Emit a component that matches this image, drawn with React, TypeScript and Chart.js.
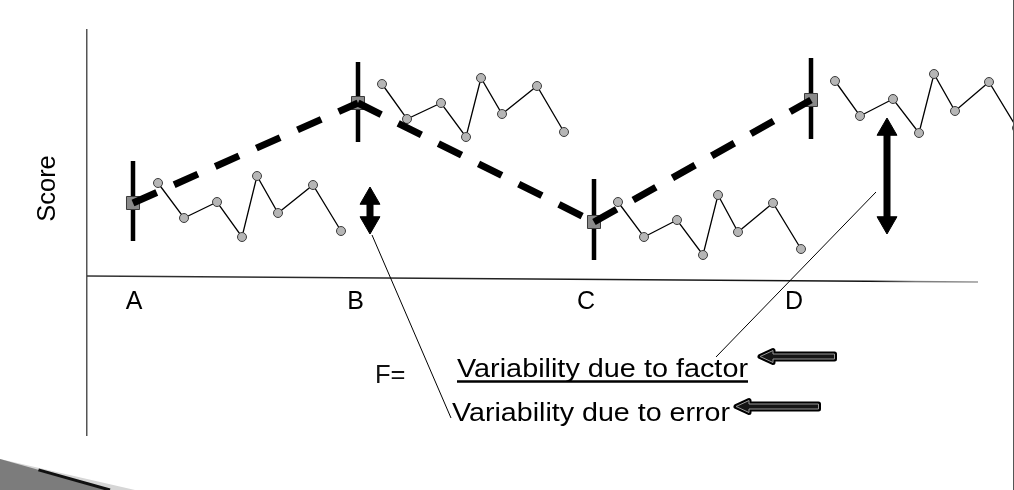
import React, { useEffect, useRef } from 'react';
import { Chart, registerables } from 'chart.js';

Chart.register(...registerables);

const FONT = '"Liberation Sans", Arial, Helvetica, sans-serif';

// ---- scale ranges (score units / trial units) ----
const X_MIN = 0;
const X_MAX = 92.6;
const Y_MIN = -15.7;
const Y_MAX = 24.8;

// ---- horizontal axis line (slightly tilted in the slide) ----
const axisLineX = [0, 89.1];
const axisLineY = [0.2, -0.4];

// ---- groups (factor levels) ----
const groupLabels = ['A', 'B', 'C', 'D'];
const groupLabelX = [4.7, 26.85, 49.9, 70.7];
const groupX = [4.6, 27.1, 50.7, 72.4];
const groupMeans = [7.5, 17.5, 5.6, 17.8];
const barHigh = [11.7, 21.6, 9.9, 22.0];
const barLow = [3.7, 13.6, 1.8, 13.9];

// ---- individual scores per group ----
const trialsAX = [7.1, 9.7, 13.0, 15.5, 17.0, 19.1, 22.6, 25.4];
const trialsAScores = [9.5, 6.0, 7.6, 4.1, 10.2, 6.5, 9.3, 4.7];
const trialsBX = [29.5, 32.0, 35.4, 37.9, 39.4, 41.5, 45.0, 47.7];
const trialsBScores = [19.4, 15.9, 17.5, 14.1, 20.0, 16.4, 19.2, 14.6];
const trialsCX = [53.1, 55.7, 59.0, 61.6, 63.1, 65.1, 68.6, 71.4];
const trialsCScores = [7.6, 4.1, 5.8, 2.3, 8.3, 4.6, 7.5, 2.9];
const trialsDX = [74.8, 77.3, 80.6, 83.2, 84.7, 86.8, 90.2, 93.0];
const trialsDScores = [19.7, 16.2, 17.9, 14.5, 20.4, 16.7, 19.6, 15.0];

// ---- double arrows (tips) ----
const errorArrowX = 28.3;
const errorArrowTips = [9.1, 4.4];
const factorArrowX = 80.0;
const factorArrowTips = [16.0, 4.4];

// ---- leader lines ----
const errorLeaderX = [28.5, 36.4];
const errorLeaderY = [4.3, -14.0];
const factorLeaderX = [78.9, 62.9];
const factorLeaderY = [8.6, -7.9];

// ---- texts ----
const yAxisTitle = 'Score';
const fractionPrefix = 'F=';
const numeratorText = 'Variability due to factor';
const denominatorText = 'Variability due to error';

// text anchors (data units) : [x, y]
const yTitlePos = [-3.95, 8.95];
const prefixPos = [28.8, -10.5];
const numeratorPos = [37.0, -9.87];
const numeratorWidth = 29.1;
const denominatorPos = [36.5, -14.25];
const denominatorWidth = 27.8;
const underlineX = [37.0, 66.1];
const underlineY = -10.35;

// block arrows: [tipX, tailX, centerY]
const blockArrow1 = [67.0, 75.0, -7.85];
const blockArrow2 = [64.6, 73.4, -12.85];

// corner decoration polygon
const cornerX = [-8.7, 2.3, -8.7];
const cornerY = [-18.1, -21.2, -21.2];

const ARROW_HEAD_R = 11.5;
const PLOT_H = 405;
const pxPerUnitY = PLOT_H / (Y_MAX - Y_MIN);

function pts(xs: number[], ys: number[]) {
  return xs.map((x, i) => ({ x, y: ys[i] }));
}

function arrowDataset(x: number, tips: number[]) {
  const off = ARROW_HEAD_R / pxPerUnitY;
  return {
    type: 'line' as const,
    data: [
      { x, y: tips[0] - off },
      { x, y: tips[1] + off },
    ],
    borderColor: '#000',
    borderWidth: 7,
    borderCapStyle: 'butt' as const,
    pointStyle: 'triangle' as const,
    pointRotation: [0, 180],
    pointRadius: ARROW_HEAD_R,
    pointBackgroundColor: '#000',
    pointBorderColor: '#000',
    pointBorderWidth: 1,
    order: 0,
    clip: false as const,
  };
}

const slidePlugin = {
  id: 'slideAnnotations',
  beforeDraw(chart: any) {
    const { ctx, scales } = chart;
    const sx = scales.x;
    const sy = scales.y;
    const p = cornerX.map((x, i) => [sx.getPixelForValue(x), sy.getPixelForValue(cornerY[i])]);
    ctx.save();
    ctx.beginPath();
    ctx.moveTo(p[0][0], p[0][1]);
    ctx.lineTo(p[1][0] + 25, p[1][1]);
    ctx.lineTo(p[2][0], p[2][1]);
    ctx.closePath();
    ctx.fillStyle = '#d6d6d6';
    ctx.fill();
    ctx.beginPath();
    ctx.moveTo(p[0][0], p[0][1]);
    ctx.lineTo(p[1][0], p[1][1]);
    ctx.lineTo(p[2][0], p[2][1]);
    ctx.closePath();
    ctx.fillStyle = '#7c7c7c';
    ctx.fill();
    ctx.beginPath();
    const t = 0.35;
    ctx.moveTo(p[0][0] + (p[1][0] - p[0][0]) * t, p[0][1] + (p[1][1] - p[0][1]) * t);
    ctx.lineTo(p[1][0], p[1][1]);
    ctx.strokeStyle = '#111';
    ctx.lineWidth = 3;
    ctx.stroke();
    ctx.restore();
  },
  afterDraw(chart: any) {
    const { ctx, scales } = chart;
    const sx = scales.x;
    const sy = scales.y;
    const X = (v: number) => sx.getPixelForValue(v);
    const Y = (v: number) => sy.getPixelForValue(v);

    ctx.save();
    ctx.fillStyle = '#000';

    ctx.save();
    ctx.font = `25.5px ${FONT}`;
    ctx.translate(X(yTitlePos[0]), Y(yTitlePos[1]));
    ctx.rotate(-Math.PI / 2);
    ctx.textAlign = 'center';
    ctx.textBaseline = 'middle';
    ctx.fillText(yAxisTitle, 0, 0);
    ctx.restore();

    const drawText = (text: string, x: number, y: number, width?: number) => {
      ctx.save();
      ctx.font = `25.5px ${FONT}`;
      ctx.textAlign = 'left';
      ctx.textBaseline = 'alphabetic';
      const px = X(x);
      const py = Y(y);
      const w = ctx.measureText(text).width;
      const s = width ? (X(x + width) - px) / w : 1;
      ctx.translate(px, py);
      ctx.scale(s, 1);
      ctx.fillText(text, 0, 0);
      ctx.restore();
    };

    ctx.fillStyle = '#111';
    drawText(fractionPrefix, prefixPos[0], prefixPos[1]);
    ctx.fillStyle = '#000';
    drawText(numeratorText, numeratorPos[0], numeratorPos[1], numeratorWidth);
    drawText(denominatorText, denominatorPos[0], denominatorPos[1], denominatorWidth);

    ctx.beginPath();
    ctx.moveTo(X(underlineX[0]), Y(underlineY));
    ctx.lineTo(X(underlineX[1]), Y(underlineY));
    ctx.lineWidth = 2.5;
    ctx.strokeStyle = '#000';
    ctx.stroke();

    const blockArrow = (a: number[]) => {
      const tip = X(a[0]) + 3;
      const tail = X(a[1]) - 2.5;
      const cy = Y(a[2]);
      const headLen = 13;
      const headHalf = 6;
      const shaftHalf = 2.5;
      ctx.beginPath();
      ctx.moveTo(tip, cy);
      ctx.lineTo(tip + headLen, cy - headHalf);
      ctx.lineTo(tip + headLen, cy - shaftHalf);
      ctx.lineTo(tail, cy - shaftHalf);
      ctx.lineTo(tail, cy + shaftHalf);
      ctx.lineTo(tip + headLen, cy + shaftHalf);
      ctx.lineTo(tip + headLen, cy + headHalf);
      ctx.closePath();
      ctx.lineJoin = 'round';
      ctx.lineWidth = 5;
      ctx.strokeStyle = '#000';
      ctx.stroke();
      ctx.fillStyle = '#151515';
      ctx.fill();
      ctx.lineWidth = 1;
      ctx.strokeStyle = '#9a9a9a';
      ctx.stroke();
    };
    blockArrow(blockArrow1);
    blockArrow(blockArrow2);

    ctx.restore();
  },
};

function buildConfig(): any {
  const meanPts = pts(groupX, groupMeans);
  const datasets: any[] = [];

  // horizontal axis line
  datasets.push({
    type: 'line',
    data: pts(axisLineX, axisLineY),
    borderColor: (c: any) => {
      const chart = c.chart;
      if (!chart.chartArea) return '#222';
      const x0 = chart.scales.x.getPixelForValue(axisLineX[0]);
      const x1 = chart.scales.x.getPixelForValue(axisLineX[1]);
      const g = chart.ctx.createLinearGradient(x0, 0, x1, 0);
      g.addColorStop(0, '#333');
      g.addColorStop(0.88, '#111');
      g.addColorStop(0.93, '#777');
      g.addColorStop(1, '#999');
      return g;
    },
    borderWidth: 1.5,
    pointRadius: 0,
    order: 9,
    clip: false,
  });

  // dashed connectors between group means, one leg at a time
  for (let i = 0; i < meanPts.length - 1; i++) {
    datasets.push({
      type: 'line',
      data: [meanPts[i], meanPts[i + 1]],
      borderColor: '#000',
      borderWidth: 7,
      borderDash: [26, 19],
      borderCapStyle: 'butt',
      pointRadius: 0,
      tension: 0,
      order: 1,
      clip: false,
    });
  }

  datasets.push({
    type: 'line',
    data: meanPts,
    showLine: false,
    pointStyle: 'rect',
    pointRadius: 9.2,
    pointBackgroundColor: '#8a8a8a',
    pointBorderColor: '#3a3a3a',
    pointBorderWidth: 1,
    order: 2,
    clip: false,
  });

  groupX.forEach((x, i) => {
    datasets.push({
      type: 'line',
      data: [
        { x, y: barHigh[i] },
        { x, y: barLow[i] },
      ],
      borderColor: '#000',
      borderWidth: 4.5,
      borderCapStyle: 'butt',
      pointRadius: 0,
      order: 3,
      clip: false,
    });
  });

  const trials = [
    [trialsAX, trialsAScores],
    [trialsBX, trialsBScores],
    [trialsCX, trialsCScores],
    [trialsDX, trialsDScores],
  ];
  trials.forEach(([xs, ys]) => {
    datasets.push({
      type: 'line',
      data: pts(xs, ys),
      borderColor: '#000',
      borderWidth: 1.3,
      pointRadius: 4.5,
      pointBackgroundColor: '#b6b6b6',
      pointBorderColor: '#3c3c3c',
      pointBorderWidth: 1,
      tension: 0,
      order: 4,
      clip: false,
    });
  });

  [
    [errorLeaderX, errorLeaderY],
    [factorLeaderX, factorLeaderY],
  ].forEach(([xs, ys]) => {
    datasets.push({
      type: 'line',
      data: pts(xs, ys),
      borderColor: '#000',
      borderWidth: 1,
      pointRadius: 0,
      order: 5,
      clip: false,
    });
  });

  datasets.push(arrowDataset(errorArrowX, errorArrowTips));
  datasets.push(arrowDataset(factorArrowX, factorArrowTips));

  return {
    type: 'line',
    data: { datasets },
    plugins: [slidePlugin],
    options: {
      responsive: false,
      animation: false,
      events: [],
      layout: { autoPadding: false, padding: { left: 87, right: 0, top: 30, bottom: 55 } },
      plugins: {
        legend: { display: false },
        tooltip: { enabled: false },
      },
      scales: {
        x: {
          type: 'linear',
          min: X_MIN,
          max: X_MAX,
          position: { y: 0 },
          grid: { display: false, drawTicks: false },
          border: { display: false },
          afterBuildTicks: (scale: any) => {
            scale.ticks = groupLabelX.map((v) => ({ value: v }));
          },
          afterFit: (scale: any) => {
            scale.paddingLeft = 0;
            scale.paddingRight = 0;
            scale.paddingTop = 0;
            scale.paddingBottom = 0;
          },
          ticks: {
            autoSkip: false,
            maxRotation: 0,
            minRotation: 0,
            padding: 9,
            color: '#000',
            font: { family: FONT, size: 25 },
            callback: (_v: any, i: number) => groupLabels[i],
          },
        },
        y: {
          type: 'linear',
          min: Y_MIN,
          max: Y_MAX,
          position: 'left',
          grid: { display: false, drawTicks: false },
          border: { display: true, color: '#555', width: 1.5 },
          ticks: { display: false },
          afterFit: (scale: any) => {
            scale.width = 0;
            scale.paddingLeft = 0;
            scale.paddingRight = 0;
            scale.paddingTop = 0;
            scale.paddingBottom = 0;
          },
        },
      },
    },
  };
}

export default function App() {
  const ref = useRef<HTMLCanvasElement>(null);
  useEffect(() => {
    if (!ref.current) return;
    const chart = new Chart(ref.current, buildConfig());
    return () => chart.destroy();
  }, []);
  return (
    <div
      style={{
        position: 'fixed',
        left: 0,
        top: 0,
        width: 1013,
        height: 490,
        background: '#fff',
        borderRight: '1px solid #555',
      }}
    >
      <canvas ref={ref} width={1013} height={490} style={{ display: 'block' }} />
    </div>
  );
}
